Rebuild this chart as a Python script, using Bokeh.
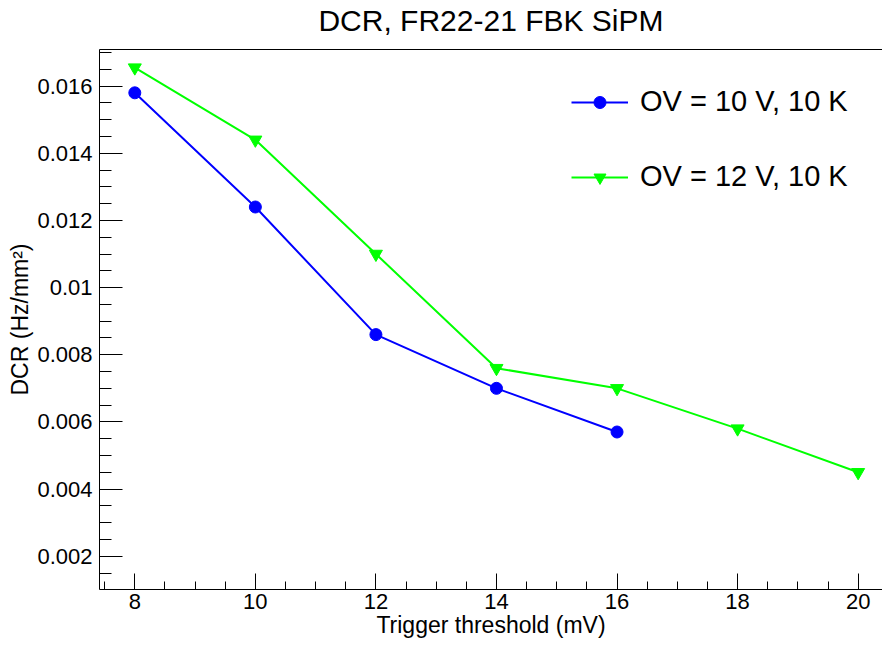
import numpy as np
from bokeh.plotting import figure
from bokeh.models import (Range1d, FixedTicker, LinearAxis, Legend, LegendItem,
                          CustomJSTickFormatter)
from bokeh.embed import file_html
from bokeh.resources import INLINE

# ---- data ----
threshold_10V = [8, 10, 12, 14, 16]
dcr_10V = [0.0158, 0.0124, 0.0086, 0.0070, 0.0057]
threshold_12V = [8, 10, 12, 14, 16, 18, 20]
dcr_12V = [0.01655, 0.0144, 0.0110, 0.0076, 0.0070, 0.0058, 0.0045]
label_10V = "OV = 10 V, 10 K"
label_12V = "OV = 12 V, 10 K"
title_text = "DCR, FR22-21 FBK SiPM"
x_title = "Trigger threshold (mV)"
y_title = "DCR (Hz/mm\u00b2)"
x_ticks = [8, 10, 12, 14, 16, 18, 20]
y_ticks = [0.002, 0.004, 0.006, 0.008, 0.010, 0.012, 0.014, 0.016]

FONT = "Liberation Sans"

p = figure(width=882, height=640, output_backend="svg", toolbar_location=None,
           x_range=Range1d(7.4144, 20.404), y_range=Range1d(0.00101, 0.01709),
           min_border_left=99, min_border_right=0, min_border_top=49,
           min_border_bottom=50)
p.background_fill_color = "white"
p.border_fill_color = "white"
p.outline_line_color = None
p.xgrid.visible = False
p.ygrid.visible = False

# axes
xa = p.xaxis[0]
xa.ticker = FixedTicker(ticks=x_ticks, minor_ticks=list(np.arange(7.5, 21.0, 0.5)))
xa.axis_label = x_title
ya = p.yaxis[0]
ya.ticker = FixedTicker(ticks=y_ticks, minor_ticks=list(np.round(np.arange(0.0015, 0.01701, 0.0005), 5)))
ya.axis_label = y_title
ya.formatter = CustomJSTickFormatter(code="return String(Math.round(tick*1000)/1000);")

for ax in (xa, ya):
    ax.axis_line_color = "black"
    ax.axis_line_width = 1
    ax.major_tick_line_color = "black"
    ax.minor_tick_line_color = "black"
    ax.major_tick_out = 0
    ax.minor_tick_out = 0
    ax.major_label_text_font = FONT
    ax.major_label_text_font_size = "22px"
    ax.major_label_text_color = "black"
    ax.axis_label_text_font = FONT
    ax.axis_label_text_font_size = "23px"
    ax.axis_label_text_font_style = "normal"
    ax.axis_label_text_color = "black"

xa.major_tick_in = 16
xa.minor_tick_in = 8
xa.major_label_standoff = 4
xa.axis_label_standoff = 0
ya.major_tick_in = 23
ya.minor_tick_in = 12
ya.major_label_standoff = 7
ya.axis_label_standoff = 1

# top frame border, carrying the chart title
top = LinearAxis(ticker=FixedTicker(ticks=[]), major_label_text_font_size="0px",
                 major_tick_in=0, major_tick_out=0, minor_tick_in=0, minor_tick_out=0,
                 axis_line_color="black", axis_line_width=1,
                 axis_label=title_text, axis_label_text_font=FONT,
                 axis_label_text_font_size="30px", axis_label_text_font_style="normal",
                 axis_label_text_color="black", axis_label_standoff=13)
p.add_layout(top, "above")

# series
l1 = p.line(threshold_10V, dcr_10V, line_color="#0000ff", line_width=2)
s1 = p.scatter(threshold_10V, dcr_10V, marker="circle", size=12,
               fill_color="#0000ff", line_color="#0000ff")
l2 = p.line(threshold_12V, dcr_12V, line_color="#00ff00", line_width=2)
s2 = p.scatter(threshold_12V, dcr_12V, marker="inverted_triangle", size=13,
               fill_color="#00ff00", line_color="#00ff00")

legend = Legend(items=[LegendItem(label=label_10V, renderers=[l1, s1]),
                       LegendItem(label=label_12V, renderers=[l2, s2])],
                location=(472, 396), glyph_width=57, glyph_height=30,
                label_height=30, label_standoff=12, spacing=42, padding=0, margin=0,
                border_line_color=None, background_fill_alpha=0,
                label_text_font=FONT, label_text_font_size="29px",
                label_text_color="black")
p.add_layout(legend)

open("out.html", "w").write(file_html(p, INLINE))
